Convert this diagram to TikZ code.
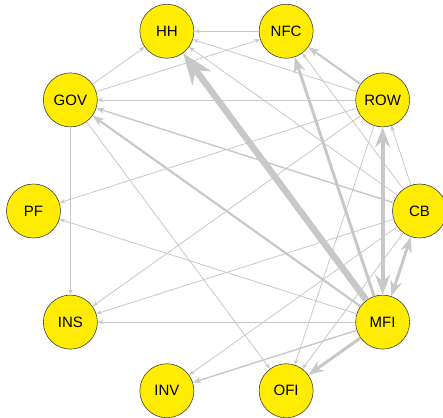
\documentclass[tikz,border=0pt]{standalone}
\usepackage{fontspec}
\setmainfont{Liberation Sans}
\usepackage{tikz}
\usetikzlibrary{arrows.meta}
\definecolor{sectoryellow}{RGB}{255,236,0}
\definecolor{flowgray}{RGB}{200,200,200}
\tikzset{sector/.style = {circle, draw=black!75, line width=0.6pt, fill=sectoryellow,
                          minimum size=54pt, inner sep=0pt,
                          font=\fontsize{15}{15}\selectfont},
         flow/.style = {draw=flowgray, line width=#1, -{Stealth[length=2pt 4.5]}},
         flow/.default = 0.8pt,
         bothflow/.style = {draw=flowgray, line width=#1,
                            {Stealth[length=2pt 4.5]}-{Stealth[length=2pt 4.5]}}}

\begin{document}
\begin{tikzpicture}
    \useasboundingbox (-226.5pt, -206pt) rectangle (216.5pt, 211pt);
    \node [sector] (CB)  at (0:193pt and 189pt)   {CB};
    \node [sector] (ROW) at (36:193pt and 189pt)  {ROW};
    \node [sector] (NFC) at (72:193pt and 189pt)  {NFC};
    \node [sector] (HH)  at (108:193pt and 189pt) {HH};
    \node [sector] (GOV) at (144:193pt and 189pt) {GOV};
    \node [sector] (PF)  at (180:193pt and 189pt) {PF};
    \node [sector] (INS) at (216:193pt and 189pt) {INS};
    \node [sector] (INV) at (252:193pt and 189pt) {INV};
    \node [sector] (OFI) at (288:193pt and 189pt) {OFI};
    \node [sector] (MFI) at (324:193pt and 189pt) {MFI};
    \draw [flow] (NFC) -- (HH);
    \draw [flow] (GOV) -- (HH);
    \draw [flow] (ROW) -- (HH);
    \draw [flow] (CB) -- (HH);
    \draw [flow] (GOV) -- (NFC);
    \draw [flow] (CB) -- (NFC);
    \draw [flow] (ROW) -- (GOV);
    \draw [flow] (GOV) -- (INS);
    \draw [flow] (GOV) -- (OFI);
    \draw [flow] (ROW) -- (PF);
    \draw [flow] (MFI) -- (PF);
    \draw [flow] (ROW) -- (INS);
    \draw [flow] (CB) -- (INS);
    \draw [flow] (MFI) -- (INS);
    \draw [flow] (CB) -- (INV);
    \draw [flow] (ROW) -- (OFI);
    \draw [flow] (CB) -- (OFI);
    \draw [flow] (CB) -- (ROW);
    \draw [flow=1.4pt] (CB) -- (GOV);
    \draw [flow=1.4pt] (MFI) -- (INV);
    \draw [flow=2pt] (ROW) -- (NFC);
    \draw [flow=2.2pt] (MFI) -- (GOV);
    \draw [flow=3pt] (MFI) -- (NFC);
    \draw [flow=3pt] (MFI) -- (OFI);
    \draw [bothflow=3pt] (MFI) -- (CB);
    \draw [bothflow=4pt] (MFI) -- (ROW);
    \draw [flow=6.5pt] (MFI) -- (HH);
\end{tikzpicture}
\end{document}
